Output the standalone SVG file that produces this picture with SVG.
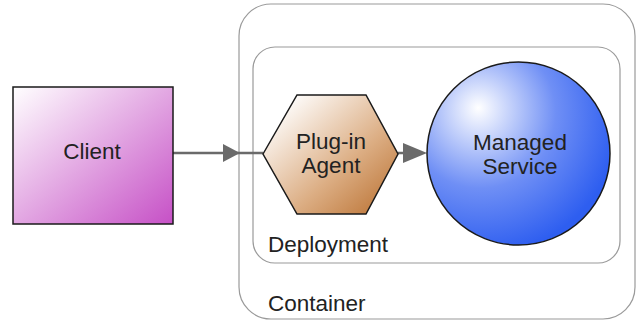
<svg xmlns="http://www.w3.org/2000/svg" width="639" height="321" viewBox="0 0 639 321">
  <style>
    .frame { fill: none; stroke: #9a9a9a; stroke-width: 1.2; }
    .node { stroke: #1a1a1a; stroke-width: 1.5; }
    .label { font-family: "Liberation Sans", Arial, sans-serif; font-size: 22.5px; fill: #222222; }
    .mid { text-anchor: middle; }
    .wire { stroke: #6a6a6a; stroke-width: 2.5; fill: none; }
    .head { fill: #6a6a6a; }
  </style>
  <defs>
    <linearGradient id="clientFill" x1="0" y1="0" x2="1" y2="1">
      <stop offset="0" stop-color="#ffffff"/>
      <stop offset="1" stop-color="#c650c6"/>
    </linearGradient>
    <linearGradient id="agentFill" x1="0" y1="0" x2="1" y2="1">
      <stop offset="0.1" stop-color="#ffffff"/>
      <stop offset="0.6" stop-color="#dcae84"/>
      <stop offset="1" stop-color="#b86d2c"/>
    </linearGradient>
    <radialGradient id="serviceFill" cx="0.3" cy="0.3" r="0.75" fx="0.28" fy="0.25">
      <stop offset="0" stop-color="#ffffff"/>
      <stop offset="0.55" stop-color="#6f8ff5"/>
      <stop offset="1" stop-color="#2e5ef0"/>
    </radialGradient>
  </defs>

  <g id="container">
    <rect class="frame" x="239" y="4" width="396" height="315" rx="32" ry="32"/>
    <text class="label" x="268" y="311">Container</text>
  </g>

  <g id="deployment">
    <rect class="frame" x="253" y="47" width="367" height="216" rx="22" ry="22"/>
    <text class="label" x="268" y="252">Deployment</text>
  </g>

  <g id="connectors">
    <line class="wire" x1="173" y1="153" x2="263" y2="153"/>
    <polygon class="head" points="223,144 240,153 223,162"/>
    <line class="wire" x1="398" y1="153" x2="405" y2="153"/>
    <polygon class="head" points="403,143 427,153 403,163"/>
  </g>

  <g id="client">
    <rect class="node" x="13" y="87" width="160" height="137" fill="url(#clientFill)"/>
    <text class="label mid" x="92" y="159">Client</text>
  </g>

  <g id="plugin-agent">
    <polygon class="node" points="263,154 297,95 366,95 398,154 366,214 297,214" fill="url(#agentFill)"/>
    <text class="label mid" x="331" y="149">Plug-in</text>
    <text class="label mid" x="331" y="173">Agent</text>
  </g>

  <g id="managed-service">
    <circle class="node" cx="518.5" cy="153.5" r="91.5" fill="url(#serviceFill)"/>
    <text class="label mid" x="520" y="150">Managed</text>
    <text class="label mid" x="520" y="174">Service</text>
  </g>
</svg>
